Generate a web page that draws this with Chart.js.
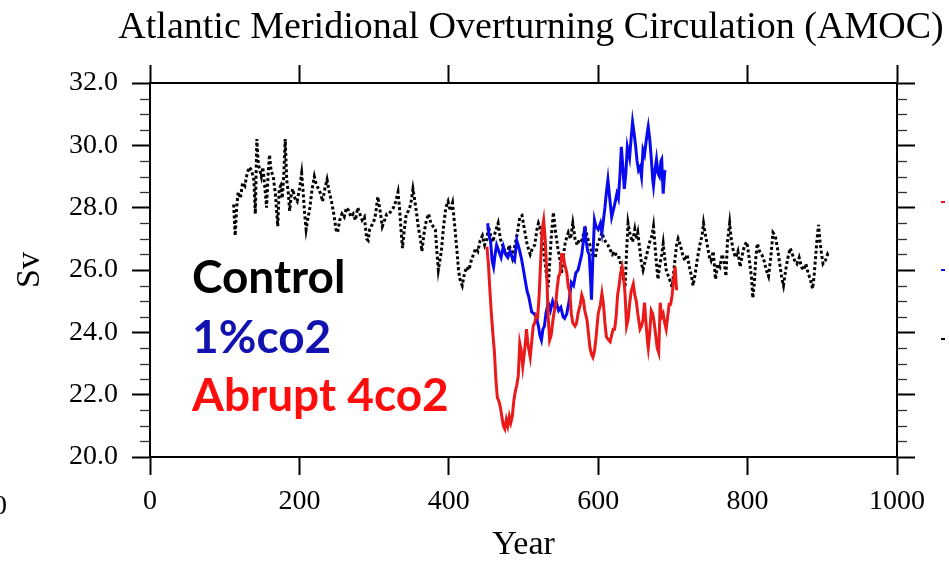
<!DOCTYPE html>
<html>
<head>
<meta charset="utf-8">
<script src="https://cdn.jsdelivr.net/npm/chart.js@4/dist/chart.umd.min.js"></script>
<style>
  html, body { margin: 0; padding: 0; background: #fff; }
  canvas { display: block; }
</style>
</head>
<body>
<canvas id="amoc" width="949" height="565"></canvas>
<script>
// ---- AMOC strength (Sv) by model year ----
const controlYears = [112,114,116,118,121,124,127,130,133,136,139,141,143,145,147,149,151,154,156,158,160,162,165,168,171,173,175,177,179,181,183,185,187,189,191,194,197,200,203,205,207,209,211,214,217,220,223,226,229,231,234,237,240,243,246,249,251,254,257,260,263,266,269,272,275,278,281,284,287,290,292,294,296,299,302,305,308,311,314,317,320,323,326,329,332,334,336,338,340,343,346,349,352,354,357,359,362,364,367,370,373,376,379,382,384,386,388,390,393,396,399,402,405,408,411,413,415,418,421,424,427,430,433,436,439,442,445,448,451,453,456,459,462,466,469,472,475,478,481,485,489,492,495,498,502,505,509,512,515,518,520,523,526,529,531,533,535,537,540,543,546,549,551,553,556,560,563,566,569,572,575,578,581,583,586,589,592,596,599,602,605,607,610,613,616,619,622,625,628,630,633,636,638,640,643,646,649,651,653,656,658,660,663,666,669,672,674,676,678,680,682,685,687,689,691,694,697,699,701,703,705,707,710,713,716,719,722,725,727,730,733,736,739,741,743,746,749,751,754,757,760,763,766,769,771,773,776,778,781,784,787,790,793,796,799,802,805,807,809,811,813,816,819,822,825,828,831,834,837,840,843,846,848,851,854,857,860,863,866,869,872,875,878,881,884,887,889,891,893,895,897,899,901,904,907,909];
const controlSv = [28.1,27.1,28.0,28.5,28.3,28.8,28.7,29.1,29.3,29.2,28.9,27.8,30.2,29.4,29.2,29.0,29.3,28.6,28.0,29.0,29.7,29.2,29.0,28.4,27.4,28.6,28.7,28.3,29.0,30.2,28.9,28.5,27.9,28.4,28.6,28.3,28.2,28.6,29.1,28.5,27.8,27.3,27.6,28.0,28.6,29.0,28.7,28.6,28.4,28.2,28.6,28.9,28.5,28.2,27.8,27.3,27.2,27.6,27.8,27.7,28.0,27.9,27.7,27.8,27.6,28.0,27.8,27.6,27.7,27.0,26.95,27.3,27.4,27.5,27.8,28.35,27.9,27.4,27.6,27.8,27.8,27.9,28.0,28.2,28.5,28.0,27.3,26.7,27.2,27.8,27.9,28.1,28.6,28.3,27.8,27.4,27.0,26.6,27.2,27.6,27.8,27.5,27.4,27.3,26.6,26.0,26.3,26.6,27.4,28.0,28.2,27.9,28.15,27.4,26.6,26.0,25.7,25.5,25.9,26.1,26.0,26.3,26.5,26.7,26.6,26.95,27.1,26.8,27.0,27.4,27.1,26.9,27.2,27.5,27.0,26.8,26.6,26.5,26.8,26.4,26.85,27.2,27.7,27.75,27.2,26.8,26.5,26.7,26.8,27.3,27.5,27.3,26.8,26.2,25.8,25.45,26.2,27.0,27.85,27.2,26.7,26.3,25.9,26.4,26.9,27.2,27.0,27.5,27.0,26.8,27.0,26.95,27.2,27.3,27.0,26.8,26.5,26.4,26.8,27.0,27.2,27.05,26.9,26.8,26.65,26.5,26.6,26.4,26.4,26.2,25.8,25.45,26.6,27.5,27.1,26.9,27.3,27.0,27.2,26.6,26.2,26.0,26.3,26.6,26.9,27.1,27.4,26.8,26.2,25.7,26.1,26.5,26.85,26.4,26.0,25.8,25.6,25.45,25.9,26.4,26.8,27.0,26.8,26.5,26.3,26.5,26.1,25.8,25.5,25.9,26.4,26.8,27.1,27.5,27.2,26.8,26.4,26.3,26.6,25.7,26.2,26.1,26.5,26.2,25.8,26.9,27.5,27.0,26.6,26.4,26.6,26.1,26.5,26.8,26.9,26.4,25.8,25.1,25.6,26.4,26.85,26.6,26.5,26.3,26.0,25.8,26.4,27.2,27.1,26.7,26.2,25.7,25.5,26.0,26.4,26.7,26.5,26.3,26.2,26.4,26.1,26.0,26.2,25.9,25.7,25.4,25.8,26.4,27.0,27.45,26.9,26.5,26.2,26.3,26.5,26.4];

const pctYears = [452,454,456,458,460,462,464,467,470,473,476,479,482,485,488,491,494,497,500,502,505,507,509,511,514,517,520,522,524,526,528,530,533,536,539,542,544,547,550,553,555,558,561,564,567,570,573,576,578,580,582,584,586,588,590,591,593,595,597,600,603,605,607,609,611,613,615,618,620,622,625,627,629,631,633,635,637,639,642,644,646,648,650,652,654,656,658,660,662,664,666,667,669,671,673,674,676,678,680,682,684,685,687,689,690];
const pctSv = [27.5,27.1,26.9,26.3,26.1,26.5,26.8,26.6,26.4,26.75,26.5,26.4,26.6,26.4,26.3,26.95,26.7,26.4,26.0,25.7,25.3,25.15,24.9,24.65,24.6,24.5,24.2,23.9,23.75,24.1,24.2,24.6,24.95,24.7,25.0,24.8,24.95,24.7,24.8,24.5,24.45,24.6,25.0,25.6,25.5,25.9,26.0,26.3,26.5,26.9,27.4,26.9,26.6,26.5,25.6,25.05,26.5,27.6,27.4,27.3,27.5,27.2,27.6,28.0,28.5,28.9,28.4,27.7,27.9,28.1,28.45,28.3,29.0,29.95,29.3,28.6,29.1,29.95,29.6,30.2,30.75,30.4,30.0,29.5,29.2,29.3,29.0,29.85,29.7,30.1,30.45,30.6,30.2,29.6,28.9,28.7,29.2,29.55,29.1,29.0,29.5,29.55,28.45,29.15,29.2];

const abruptYears = [451,453,455,457,459,461,463,465,467,469,471,473,475,477,479,481,483,485,487,489,491,493,495,497,499,501,503,504,506,509,511,513,515,517,519,521,523,525,527,529,531,533,535,537,540,543,545,547,549,551,553,555,558,560,562,564,566,569,571,573,576,578,580,582,585,587,589,591,593,595,597,600,603,605,607,609,611,614,616,618,620,622,624,626,628,630,632,634,636,638,640,642,644,647,649,651,653,656,658,660,662,664,666,667,669,671,673,675,677,679,681,683,685,687,689,691,693,695,697,699,701,703,705];
const abruptSv = [26.75,26.2,25.35,24.6,23.95,23.4,22.5,21.9,21.8,21.6,21.3,21.0,20.9,21.2,21.0,21.3,21.1,21.3,21.8,22.1,22.3,22.6,23.65,23.4,22.9,23.3,23.8,24.1,23.6,23.2,23.7,24.2,24.3,24.55,24.5,25.2,26.3,27.3,27.6,27.0,26.0,24.5,23.75,23.9,24.5,24.9,25.4,25.8,25.9,26.5,26.5,26.2,25.9,25.45,25.3,24.6,24.3,24.2,24.3,24.6,24.9,25.2,25.05,24.7,24.4,23.95,23.5,23.3,23.2,23.4,23.8,24.6,24.9,25.25,24.9,24.3,23.85,23.75,23.7,23.9,24.1,24.1,24.5,25.2,25.5,25.9,26.1,25.8,25.2,24.2,24.4,24.9,25.3,25.55,25.2,25.0,24.6,24.1,24.2,24.4,24.95,24.3,23.7,23.5,24.0,24.7,24.6,24.3,23.9,23.5,23.35,24.95,24.5,24.6,24.3,24.1,24.5,24.9,24.9,25.2,25.7,26.1,25.35];

// ---- axis ticks and labels ----
const xTicks = [0, 200, 400, 600, 800, 1000];
const yTicks = [20, 22, 24, 26, 28, 30, 32];
const yMinorTicks = [20.5,21,21.5,22.5,23,23.5,24.5,25,25.5,26.5,27,27.5,28.5,29,29.5,30.5,31,31.5];
const seriesNames = ['Control', '1%co2', 'Abrupt 4co2'];
const chartTitle = 'Atlantic Meridional Overturning Circulation (AMOC)';

const toPoints = (xs, ys) => xs.map((x, i) => ({ x, y: ys[i] }));

const SERIF = '"Liberation Serif", "Times New Roman", serif';
const SANS = 'Lato, "Open Sans", sans-serif';

const axisGrid = (len) => ({
  drawOnChartArea: false,
  drawTicks: true,
  tickLength: len,
  tickWidth: 2,
  tickColor: '#000'
});
const axisBorder = { display: true, color: '#000', width: 2 };
const setTicks = (vals) => (scale) => { scale.ticks = vals.map(v => ({ value: v })); };

// NCL-style outward minor ticks on both vertical axes, title and text legend
const decorations = {
  id: 'decorations',
  afterDraw(chart) {
    const { ctx, chartArea: a, scales } = chart;
    const y = scales.y;
    ctx.save();
    ctx.strokeStyle = '#333';
    ctx.lineWidth = 1.3;
    yMinorTicks.forEach(v => {
      const py = Math.round(y.getPixelForValue(v)) + 0.5;
      ctx.beginPath(); ctx.moveTo(a.left - 10, py); ctx.lineTo(a.left, py); ctx.stroke();
      ctx.beginPath(); ctx.moveTo(a.right, py); ctx.lineTo(a.right + 10, py); ctx.stroke();
    });

    // title
    ctx.fillStyle = '#000';
    ctx.textBaseline = 'alphabetic';
    ctx.textAlign = 'center';
    ctx.font = '38px ' + SERIF;
    ctx.fillText(chartTitle, 531, 38);

    // text legend inside the plot
    ctx.textAlign = 'left';
    ctx.font = 'bold 46px ' + SANS;
    ctx.fillStyle = '#000000';
    ctx.fillText(seriesNames[0], 192, 293);
    ctx.fillStyle = '#1212b0';
    ctx.fillText(seriesNames[1], 192, 353);
    ctx.fillStyle = '#ff0d0d';
    ctx.fillText(seriesNames[2], 192, 411);

    // edge fragments of the neighbouring panel
    ctx.font = '28px ' + SERIF;
    ctx.fillStyle = '#000';
    ctx.fillText('0', -7, 514);
    ctx.fillStyle = '#e8141c'; ctx.fillRect(941, 201, 4, 2);
    ctx.fillStyle = '#1010e0'; ctx.fillRect(941, 269, 4, 2);
    ctx.fillStyle = '#000';    ctx.fillRect(941, 338, 4, 2);
    ctx.restore();
  }
};

new Chart(document.getElementById('amoc'), {
  type: 'line',
  data: {
    datasets: [
      {
        label: seriesNames[2],
        data: toPoints(abruptYears, abruptSv),
        borderColor: '#ea1a1a',
        borderWidth: 3,
        pointRadius: 0,
        tension: 0
      },
      {
        label: seriesNames[1],
        data: toPoints(pctYears, pctSv),
        borderColor: '#0a0af0',
        borderWidth: 3,
        pointRadius: 0,
        tension: 0
      },
      {
        label: seriesNames[0],
        data: toPoints(controlYears, controlSv),
        borderColor: '#000',
        borderWidth: 3,
        borderDash: [3, 2.5],
        pointRadius: 0,
        tension: 0
      }
    ]
  },
  options: {
    responsive: false,
    devicePixelRatio: 1,
    animation: false,
    events: [],
    layout: { padding: 0 },
    plugins: {
      legend: { display: false },
      title: { display: false },
      tooltip: { enabled: false }
    },
    scales: {
      x: {
        type: 'linear', position: 'bottom', min: 0, max: 1000,
        afterBuildTicks: setTicks(xTicks),
        afterFit: (s) => { s.height = 108; },
        grid: axisGrid(18), border: axisBorder,
        ticks: { color: '#000', padding: 10, maxRotation: 0, callback: (v) => String(v), font: { family: SERIF, size: 28 } },
        title: { display: true, text: 'Year', color: '#000', padding: { top: 0, bottom: 0 }, font: { family: SERIF, size: 34 } }
      },
      xTop: {
        type: 'linear', position: 'top', min: 0, max: 1000,
        afterBuildTicks: setTicks(xTicks),
        afterFit: (s) => { s.height = 83; },
        grid: axisGrid(18), border: axisBorder,
        ticks: { display: false }
      },
      y: {
        type: 'linear', position: 'left', min: 20, max: 32,
        afterBuildTicks: setTicks(yTicks),
        afterFit: (s) => { s.width = 150; },
        grid: axisGrid(18), border: axisBorder,
        ticks: { color: '#000', padding: 14, callback: (v) => v.toFixed(1), font: { family: SERIF, size: 28 } },
        title: { display: true, text: 'Sv', color: '#000', padding: { top: 10, bottom: 0 }, font: { family: SERIF, size: 34 } }
      },
      yRight: {
        type: 'linear', position: 'right', min: 20, max: 32,
        afterBuildTicks: setTicks(yTicks),
        afterFit: (s) => { s.width = 52; },
        grid: axisGrid(18), border: axisBorder,
        ticks: { display: false }
      }
    }
  },
  plugins: [decorations]
});
</script>
</body>
</html>
